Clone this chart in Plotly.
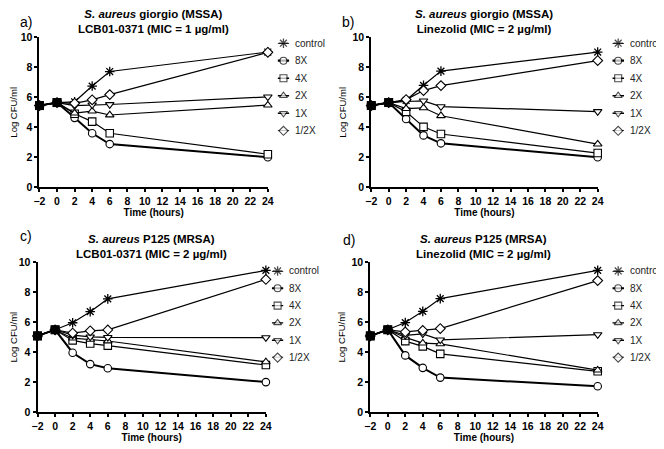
import plotly.graph_objects as go

W, H = 664, 449
PAGE_OFFSET = 8  # default body margin of the html page

times = [-2, 0, 2, 4, 6, 24]
series_names = ["control", "8X", "4X", "2X", "1X", "1/2X"]
symbols = ["asterisk-open", "circle", "square", "triangle-up", "triangle-down", "diamond"]
line_widths = [1.2, 2.0, 1.2, 1.2, 1.2, 1.2]

# a) S. aureus giorgio (MSSA), LCB01-0371
a_control = [5.45, 5.65, 5.70, 6.75, 7.72, 9.02]
a_8x = [5.45, 5.65, 4.63, 3.60, 2.88, 2.00]
a_4x = [5.45, 5.65, 4.90, 4.38, 3.60, 2.20]
a_2x = [5.45, 5.65, 4.95, 5.08, 4.82, 5.48]
a_1x = [5.45, 5.65, 5.45, 5.50, 5.52, 6.03]
a_half = [5.45, 5.65, 5.60, 5.83, 6.18, 9.00]

# b) S. aureus giorgio (MSSA), Linezolid
b_control = [5.45, 5.65, 5.80, 6.80, 7.75, 9.02]
b_8x = [5.45, 5.65, 4.55, 3.46, 2.93, 2.00]
b_4x = [5.45, 5.65, 5.03, 4.03, 3.55, 2.28]
b_2x = [5.45, 5.65, 5.25, 5.30, 4.77, 2.88]
b_1x = [5.45, 5.65, 5.72, 5.76, 5.38, 5.05]
b_half = [5.45, 5.65, 5.85, 6.45, 6.78, 8.45]

# c) S. aureus P125 (MRSA), LCB01-0371
c_control = [5.08, 5.49, 5.96, 6.70, 7.55, 9.45]
c_8x = [5.08, 5.49, 3.96, 3.20, 2.92, 2.00]
c_4x = [5.08, 5.49, 4.78, 4.57, 4.43, 3.14]
c_2x = [5.08, 5.49, 4.93, 4.85, 4.74, 3.35]
c_1x = [5.08, 5.49, 5.13, 5.02, 4.98, 4.97]
c_half = [5.08, 5.49, 5.27, 5.42, 5.48, 8.85]

# d) S. aureus P125 (MRSA), Linezolid
d_control = [5.08, 5.49, 5.97, 6.72, 7.57, 9.45]
d_8x = [5.08, 5.49, 3.78, 2.95, 2.30, 1.72]
d_4x = [5.08, 5.49, 4.73, 4.38, 3.88, 2.72]
d_2x = [5.08, 5.49, 4.98, 4.60, 4.55, 2.80]
d_1x = [5.08, 5.49, 5.12, 5.22, 4.82, 5.17]
d_half = [5.08, 5.49, 5.35, 5.45, 5.57, 8.77]

x_ticks = list(range(-2, 25, 2))
y_ticks = [0, 2, 4, 6, 8, 10]

FONT = "Arial, Liberation Sans, sans-serif"


def hx(px):
    return max(px - PAGE_OFFSET, 0) / W


def vy(py):
    return 1 - max(py - PAGE_OFFSET, 0) / H


def marker_style(sym, size):
    if sym == "asterisk-open":
        return dict(symbol=sym, size=size, color="black", line=dict(color="black", width=1.3))
    return dict(symbol=sym, size=size, color="white", line=dict(color="black", width=1.1))


panels = [
    dict(label="a)", lab_xy=(1, 2),
         title="<b><i>S. aureus</i> giorgio (MSSA)</b><br><b>LCB01-0371 (MIC = 1 \u00b5g/ml)</b>",
         box=(30, 264, 32, 186), leg=(274, 286, 38, 128),
         data=[a_control, a_8x, a_4x, a_2x, a_1x, a_half]),
    dict(label="b)", lab_xy=(338, 2),
         title="<b><i>S. aureus</i> giorgio (MSSA)</b><br><b>Linezolid (MIC = 2 \u00b5g/ml)</b>",
         box=(370, 602, 32, 186), leg=(617, 629, 38, 128),
         data=[b_control, b_8x, b_4x, b_2x, b_1x, b_half]),
    dict(label="c)", lab_xy=(1, 228),
         title="<b><i>S. aureus</i> P125 (MRSA)</b><br><b>LCB01-0371 (MIC = 2 \u00b5g/ml)</b>",
         box=(28, 262, 263, 417), leg=(268, 280, 272, 361),
         data=[c_control, c_8x, c_4x, c_2x, c_1x, c_half]),
    dict(label="d)", lab_xy=(339, 232),
         title="<b><i>S. aureus</i> P125 (MRSA)</b><br><b>Linezolid (MIC = 2 \u00b5g/ml)</b>",
         box=(369, 602, 263, 417), leg=(617, 629, 272, 361),
         data=[d_control, d_8x, d_4x, d_2x, d_1x, d_half]),
]

fig = go.Figure()
annotations = []
layout = {}

for p, panel in enumerate(panels):
    k = p + 1
    lk = p + 5
    xa = "x" if k == 1 else f"x{k}"
    ya = "y" if k == 1 else f"y{k}"
    x0, x1, yt, yb = panel["box"]

    for name, sym, lw, vals in zip(series_names, symbols, line_widths, panel["data"]):
        fig.add_trace(go.Scatter(
            x=times, y=vals, mode="lines+markers", name=name,
            line=dict(color="black", width=lw),
            marker=marker_style(sym, 8 if sym == "asterisk-open" else 7.5),
            xaxis=xa, yaxis=ya, showlegend=False, cliponaxis=False))

    # common starting points drawn as filled squares
    start = panel["data"][0]
    fig.add_trace(go.Scatter(
        x=times[:2], y=start[:2], mode="markers",
        marker=dict(symbol="square", size=9, color="black"),
        xaxis=xa, yaxis=ya, showlegend=False, cliponaxis=False))

    axis_common = dict(showgrid=False, zeroline=False, showline=True, linecolor="black",
                       linewidth=2, ticks="outside", ticklen=3, tickwidth=1.5, tickcolor="black",
                       tickfont=dict(family=FONT, size=10.5, color="black", weight="bold"))
    layout["xaxis" if k == 1 else f"xaxis{k}"] = dict(
        axis_common, domain=[hx(x0), hx(x1)], range=[-2, 24], tickvals=x_ticks,
        anchor=ya, title=dict(text="Time (hours)", standoff=2,
                              font=dict(family=FONT, size=10, color="black", weight="bold")))
    layout["yaxis" if k == 1 else f"yaxis{k}"] = dict(
        axis_common, domain=[vy(yb), vy(yt)], range=[0, 10], tickvals=y_ticks,
        anchor=xa, title=dict(text="Log CFU/ml", standoff=4,
                              font=dict(family=FONT, size=9.5, color="black")))

    # hand-drawn legend on its own invisible axes
    lx0, lx1, lyt, lyb = panel["leg"]
    lxa, lya = f"x{lk}", f"y{lk}"
    layout[f"xaxis{lk}"] = dict(domain=[hx(lx0), hx(lx1)], range=[0, 1], visible=False,
                                anchor=lya, fixedrange=True)
    layout[f"yaxis{lk}"] = dict(domain=[vy(lyb), vy(lyt)], range=[len(series_names) - 1, 0],
                                visible=False, anchor=lxa, fixedrange=True)
    for i, (name, sym, lw) in enumerate(zip(series_names, symbols, line_widths)):
        size = 8 if sym == "asterisk-open" else 7
        fig.add_trace(go.Scatter(
            x=[0, 0.5, 1], y=[i, i, i], mode="lines+markers",
            line=dict(color="black", width=lw + 0.2), marker=marker_style(sym, [0, size, 0]),
            xaxis=lxa, yaxis=lya, showlegend=False, cliponaxis=False, hoverinfo="skip"))
        annotations.append(dict(x=1, y=i, xref=lxa, yref=lya, text=name, showarrow=False,
                                xanchor="left", yanchor="middle", xshift=4,
                                font=dict(family=FONT, size=10, color="#222")))

    annotations.append(dict(x=hx((x0 + x1) / 2), y=vy(16 if k <= 2 else 247),
                            xref="paper", yref="paper", text=panel["title"], showarrow=False,
                            xanchor="center", yanchor="middle",
                            font=dict(family=FONT, size=11.5, color="black")))
    lx, ly = panel["lab_xy"]
    annotations.append(dict(x=hx(lx), y=vy(ly), xref="paper", yref="paper", text=panel["label"],
                            showarrow=False, xanchor="left", yanchor="top", yshift=2,
                            font=dict(family=FONT, size=14, color="black")))

fig.update_layout(
    width=W, height=H, margin=dict(l=0, r=0, t=0, b=0),
    paper_bgcolor="white", plot_bgcolor="white",
    font=dict(family=FONT, color="black"),
    annotations=annotations, showlegend=False, **layout)

fig.write_html("out.html")
